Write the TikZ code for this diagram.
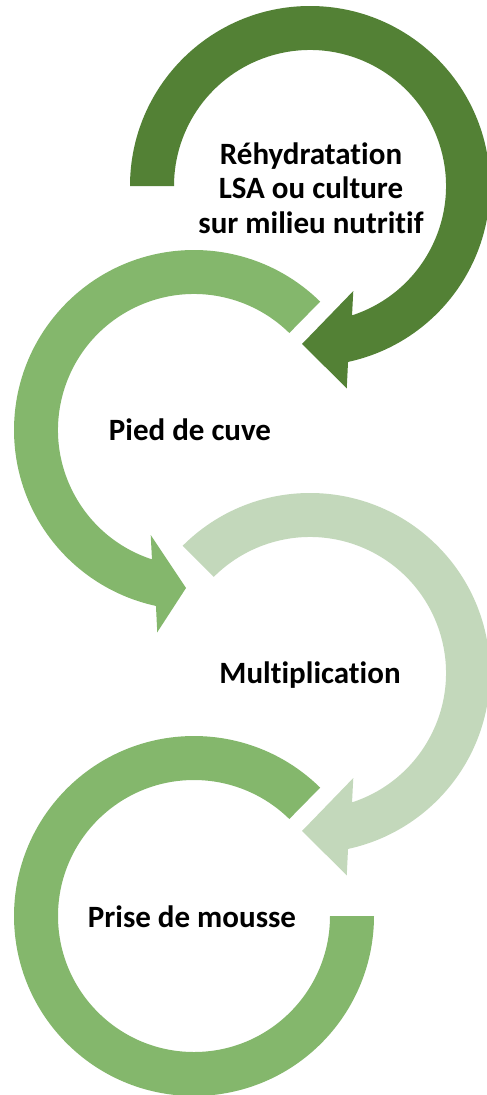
\documentclass[tikz,border=0pt]{standalone}
\usepackage{fontspec}
\setmainfont{Carlito}[RawFeature={-liga}]
\definecolor{gDark}{HTML}{538135}
\definecolor{gMid}{HTML}{84B76C}
\definecolor{gLight}{HTML}{C3D8BB}
\tikzset{
  lbl/.style={font=\fontsize{31}{34.5}\selectfont\bfseries, text=black, inner sep=0pt, align=center}
}
\begin{document}
\begin{tikzpicture}[x=1pt,y=1pt]
\useasboundingbox (0,0) rectangle (487,-1095);
\clip (0,0) rectangle (487,-1095);
% arrow 1 (dark, clockwise)
\begin{scope}[shift={(310,-186)}]
  \coordinate (c1) at (0,0);
  \fill[gDark] (180:180pt) arc[start angle=180,end angle=-77.8,radius=180pt]
    -- (-79.7:205.6pt) -- (-92.9:158.2pt) -- (-67.6:113.6pt) -- (-72:136pt)
    arc[start angle=-72,end angle=180,radius=136pt] -- cycle;
\end{scope}
% arrow 2 (mid, counter-clockwise)
\begin{scope}[shift={(194,-430)}]
  \coordinate (c2) at (0,0);
  \fill[gMid] (45.5:180pt) arc[start angle=45.5,end angle=257.8,radius=180pt]
    -- (259.7:205.6pt) -- (267.1:158.2pt) -- (247.6:113.6pt) -- (252:136pt)
    arc[start angle=252,end angle=45.5,radius=136pt] -- cycle;
\end{scope}
% arrow 3 (light, clockwise)
\begin{scope}[shift={(310,-673)}]
  \coordinate (c3) at (0,0);
  \fill[gLight] (135:180pt) arc[start angle=135,end angle=-77.8,radius=180pt]
    -- (-79.7:205.6pt) -- (-92.9:158.2pt) -- (-67.6:113.6pt) -- (-72:136pt)
    arc[start angle=-72,end angle=135,radius=136pt] -- cycle;
\end{scope}
% ring 4 (mid, open)
\begin{scope}[shift={(194,-916)}]
  \coordinate (c4) at (0,0);
  \fill[gMid] (45.5:180pt) arc[start angle=45.5,end angle=360,radius=180pt]
    -- (0:136pt) arc[start angle=360,end angle=45.5,radius=136pt] -- cycle;
\end{scope}
\node[lbl] (t1) at (311,-188) {Réhydratation\\LSA ou culture\\sur milieu nutritif};
\node[lbl,anchor=base] (t2) at (190,-440) {Pied de cuve};
\node[lbl,anchor=base] (t3) at (310,-683) {Multiplication};
\node[lbl,anchor=base] (t4) at (192,-927) {Prise de mousse};
\end{tikzpicture}
\end{document}
